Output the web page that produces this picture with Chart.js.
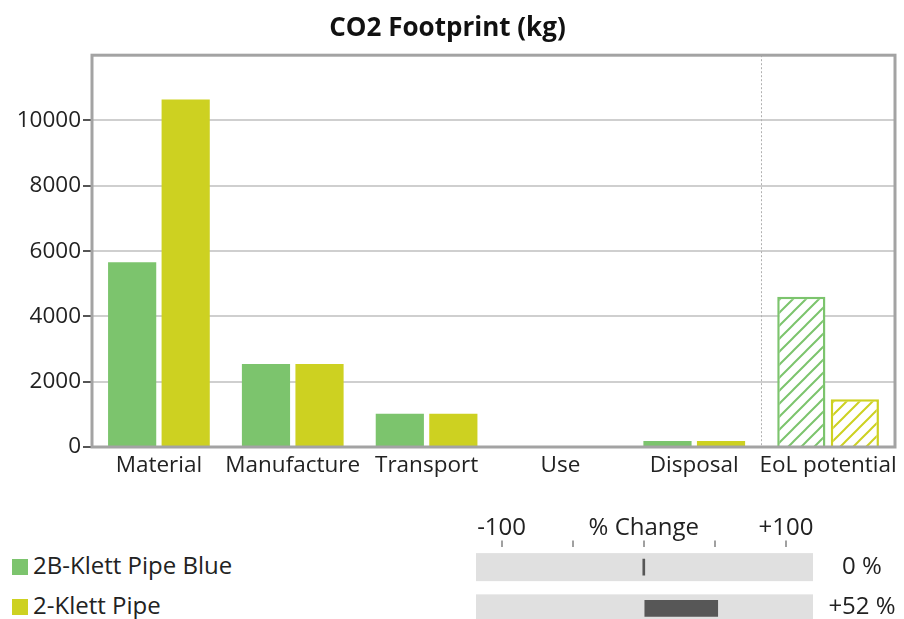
<!DOCTYPE html>
<html>
<head>
<meta charset="utf-8">
<script src="https://cdn.jsdelivr.net/npm/chart.js@4/dist/chart.umd.min.js"></script>
<style>
  body { margin: 0; width: 904px; height: 619px; overflow: hidden; background: #fff; position: relative;
         font-family: 'Open Sans', sans-serif; color: #222; }
  #mainChart { position: absolute; left: 0; top: 0; }
  #pctChart { position: absolute; left: 476px; top: 505px; }
  .legend-row { position: absolute; left: 12px; height: 30px; line-height: 30px; font-size: 24px; white-space: nowrap; }
  .legend-row span.sq { display: inline-block; width: 16px; height: 16px; margin-right: 5px; vertical-align: -1px; }
  .pct-label { position: absolute; left: 812px; width: 100px; text-align: center; height: 30px; line-height: 30px; font-size: 24px; }
</style>
</head>
<body>
<canvas id="mainChart" width="904" height="487"></canvas>
<canvas id="pctChart" width="337" height="124"></canvas>
<div id="legend"></div>
<script>
// chart data
const categories = ['Material', 'Manufacture', 'Transport', 'Use', 'Disposal', 'EoL potential'];
const seriesNames = ['2B-Klett Pipe Blue', '2-Klett Pipe'];
const pipeBlue = [5660, 2540, 1020, 0, 180, 4600];
const klettPipe = [10640, 2540, 1020, 0, 180, 1460];
const yTicks = [0, 2000, 4000, 6000, 8000, 10000];
const pctChange = [0, 52];
const pctTicks = [-100, -50, 0, 50, 100];
const pctTickLabels = ['-100', '', '% Change', '', '+100'];

const green = '#7cc46d';
const yellow = '#cdd121';
const seriesColors = [green, yellow];
const potentialIndex = 5;

// diagonal hatch used for the EoL potential bars
function hatch(color) {
    const s = 13;
    const c = document.createElement('canvas');
    c.width = s; c.height = s;
    const g = c.getContext('2d');
    g.fillStyle = '#fff';
    g.fillRect(0, 0, s, s);
    g.strokeStyle = color;
    g.lineWidth = 2;
    g.beginPath();
    g.moveTo(0, s); g.lineTo(s, 0);
    g.moveTo(-2, 2); g.lineTo(2, -2);
    g.moveTo(s - 2, s + 2); g.lineTo(s + 2, s - 2);
    g.stroke();
    return g.createPattern(c, 'repeat');
}

function makeDataset(label, values, color) {
    const pattern = hatch(color);
    return {
        label: label,
        data: values,
        backgroundColor: ctx => ctx.dataIndex === potentialIndex ? pattern : color,
        borderColor: color,
        borderWidth: ctx => ctx.dataIndex === potentialIndex ? 2.5 : 0,
        categoryPercentage: 0.8,
        barPercentage: 0.9
    };
}

// frame round the plot and dotted separator before EoL potential
const framePlugin = {
    id: 'frame',
    afterDraw(chart) {
        const { ctx, chartArea: a, scales } = chart;
        const x = (scales.x.getPixelForValue(potentialIndex - 1) + scales.x.getPixelForValue(potentialIndex)) / 2;
        ctx.save();
        ctx.strokeStyle = '#b0b0b0';
        ctx.lineWidth = 1;
        ctx.setLineDash([2, 2]);
        ctx.beginPath();
        ctx.moveTo(Math.round(x) + 0.5, a.top);
        ctx.lineTo(Math.round(x) + 0.5, a.bottom);
        ctx.stroke();
        ctx.setLineDash([]);
        ctx.strokeStyle = '#a3a3a3';
        ctx.lineWidth = 3;
        ctx.strokeRect(a.left, a.top, a.right - a.left, a.bottom - a.top);
        ctx.restore();
    }
};

new Chart(document.getElementById('mainChart'), {
    type: 'bar',
    data: {
        labels: categories,
        datasets: [
            makeDataset(seriesNames[0], pipeBlue, green),
            makeDataset(seriesNames[1], klettPipe, yellow)
        ]
    },
    options: {
        responsive: false,
        animation: false,
        layout: { padding: { left: 0, right: 9, top: 0, bottom: 0 } },
        plugins: {
            legend: { display: false },
            tooltip: { enabled: false },
            title: {
                display: true,
                text: 'CO2 Footprint (kg)',
                color: '#111',
                font: { family: 'Open Sans', size: 26, weight: 'bold' },
                padding: { top: 13, bottom: 11 }
            }
        },
        scales: {
            x: {
                grid: { display: false, drawTicks: false },
                border: { display: false },
                ticks: { color: '#222', font: { family: 'Open Sans', size: 22.5 }, padding: 5, maxRotation: 0, autoSkip: false },
                afterFit: s => { s.height = 40; }
            },
            y: {
                min: 0,
                max: 12000,
                afterBuildTicks: s => { s.ticks = yTicks.map(v => ({ value: v })); },
                grid: { color: '#cfcfcf', lineWidth: 2, tickColor: '#555', tickLength: 9 },
                border: { display: false },
                ticks: { color: '#222', font: { family: 'Open Sans', size: 22.5 }, padding: 2, callback: v => String(v) },
                afterFit: s => { s.width = 92; }
            }
        }
    },
    plugins: [framePlugin]
});

// % change panel
const trackPlugin = {
    id: 'tracks',
    beforeDatasetsDraw(chart) {
        const { ctx, chartArea: a, scales } = chart;
        ctx.save();
        ctx.fillStyle = '#e0e0e0';
        seriesNames.forEach((n, i) => {
            const y = scales.y.getPixelForValue(i);
            ctx.fillRect(a.left, y - 14, a.right - a.left, 28);
        });
        ctx.restore();
    }
};

new Chart(document.getElementById('pctChart'), {
    type: 'bar',
    data: {
        labels: seriesNames,
        datasets: [{
            data: pctChange,
            backgroundColor: '#575757',
            barThickness: 16,
            minBarLength: 2
        }]
    },
    options: {
        indexAxis: 'y',
        responsive: false,
        animation: false,
        layout: { padding: 0 },
        plugins: { legend: { display: false }, tooltip: { enabled: false } },
        scales: {
            x: {
                position: 'top',
                min: -118,
                max: 119,
                afterBuildTicks: s => { s.ticks = pctTicks.map(v => ({ value: v })); },
                grid: { drawOnChartArea: false, tickColor: '#a0a0a0', tickLength: 6, lineWidth: 2 },
                border: { display: false },
                ticks: {
                    color: '#222',
                    font: { family: 'Open Sans', size: 24 },
                    padding: -2,
                    maxRotation: 0,
                    autoSkip: false,
                    callback: (v, i) => pctTickLabels[pctTicks.indexOf(v)]
                },
                afterFit: s => { s.height = 41.5; }
            },
            y: { display: false }
        }
    },
    plugins: [trackPlugin]
});

// legend rows and % labels
const legend = document.getElementById('legend');
const rowTops = [550, 590];
seriesNames.forEach((name, i) => {
    const row = document.createElement('div');
    row.className = 'legend-row';
    row.style.top = rowTops[i] + 'px';
    row.innerHTML = '<span class="sq" style="background:' + seriesColors[i] + '"></span>' + name;
    legend.appendChild(row);

    const v = pctChange[i];
    const lab = document.createElement('div');
    lab.className = 'pct-label';
    lab.style.top = rowTops[i] + 'px';
    lab.textContent = (v > 0 ? '+' : '') + v + ' %';
    legend.appendChild(lab);
});
</script>
</body>
</html>
